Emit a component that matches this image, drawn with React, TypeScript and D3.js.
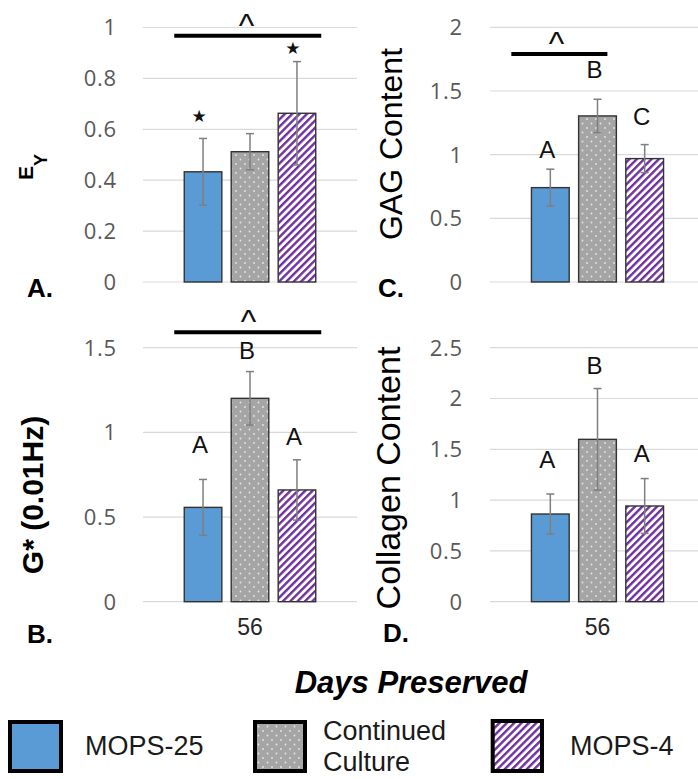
import React from "react";
import * as d3 from "d3";

const series = ["MOPS-25", "Continued Culture", "MOPS-4"];
const categories = ["56"];

const eyMeans = [0.433, 0.512, 0.663];
const eyErr = [0.131, 0.071, 0.203];
const eyTicks = [0, 0.2, 0.4, 0.6, 0.8, 1];
const eyMarks = ["★", "", "★"];
const eyMarkY = [0.652, 0, 0.919];
const eySig = { y: 0.968, from: -0.213, to: 2.917, caret: 1.327 };

const gStarMeans = [0.557, 1.201, 0.66];
const gStarErr = [0.165, 0.158, 0.178];
const gStarTicks = [0, 0.5, 1, 1.5];
const gStarLetters = ["A", "B", "A"];
const gStarLetterY = [0.88, 1.434, 0.926];
const gStarSig = { y: 1.591, from: -0.213, to: 2.917, caret: 1.37 };

const gagMeans = [0.741, 1.304, 0.969];
const gagErr = [0.145, 0.131, 0.11];
const gagTicks = [0, 0.5, 1, 1.5, 2];
const gagLetters = ["A", "B", "C"];
const gagLetterY = [0.974, 1.603, 1.233];
const gagSig = { y: 1.79, from: -0.426, to: 1.61, caret: 0.532 };

const collagenMeans = [0.863, 1.598, 0.942];
const collagenErr = [0.197, 0.5, 0.27];
const collagenTicks = [0, 0.5, 1, 1.5, 2, 2.5];
const collagenLetters = ["A", "B", "A"];
const collagenLetterY = [1.313, 2.241, 1.378];

const fills = ["#5b9bd5", "url(#dots)", "url(#stripes)"];
const TICK_FONT = "'Open Sans', 'DejaVu Sans', sans-serif";
const ARIAL = "'Liberation Sans', Arial, sans-serif";

type PanelProps = {
  x0: number; x1: number; yBottom: number; yTop: number; max: number;
  means: number[]; errs: number[]; ticks: number[];
  marks: string[]; markY: number[]; markType: "star" | "letter";
  sig?: { y: number; from: number; to: number; caret: number };
  tickX: number; showCat: boolean;
};

function Panel(p: PanelProps) {
  const y = d3.scaleLinear().domain([0, p.max]).range([p.yBottom, p.yTop]);
  const xCat = d3.scaleBand().domain(categories).range([p.x0, p.x1]).paddingInner(0).paddingOuter(0.3137);
  const cat = categories[0];
  const xs = d3.scaleBand().domain(series).range([xCat(cat)!, xCat(cat)! + xCat.bandwidth()]).paddingInner(0.2).paddingOuter(0);
  const step = xs.step();
  const g0 = xCat(cat)!;
  const bw = xs.bandwidth();
  return (
    <g>
      {p.ticks.map((t) => (
        <g key={t}>
          <line x1={p.x0} x2={p.x1} y1={y(t)} y2={y(t)} stroke="#d9d9d9" strokeWidth={1.2} />
          <text x={p.tickX} y={y(t)} dy="0.36em" textAnchor="end" fontFamily={TICK_FONT} fontSize={22} letterSpacing={0.8} fill="#595959">
            {String(t)}
          </text>
        </g>
      ))}
      {series.map((s, i) => {
        const bx = xs(s)!;
        const cx = bx + bw / 2;
        return (
          <g key={s}>
            <rect x={bx} y={y(p.means[i])} width={bw} height={y(0) - y(p.means[i])} fill={fills[i]} stroke="#333" strokeWidth={1.4} />
            <line x1={cx} x2={cx} y1={y(p.means[i] + p.errs[i])} y2={y(p.means[i] - p.errs[i])} stroke="#7f7f7f" strokeWidth={1.5} />
            <line x1={cx - 4} x2={cx + 4} y1={y(p.means[i] + p.errs[i])} y2={y(p.means[i] + p.errs[i])} stroke="#7f7f7f" strokeWidth={1.5} />
            <line x1={cx - 4} x2={cx + 4} y1={y(p.means[i] - p.errs[i])} y2={y(p.means[i] - p.errs[i])} stroke="#7f7f7f" strokeWidth={1.5} />
            {p.marks[i] && (p.markType === "star" ? (
              <text x={cx - 4} y={y(p.markY[i])} dy="0.35em" textAnchor="middle" fontFamily="'DejaVu Sans', sans-serif" fontSize={17} fill="#111">{p.marks[i]}</text>
            ) : (
              <text x={cx - 3} y={y(p.markY[i])} textAnchor="middle" fontFamily={ARIAL} fontSize={24} fill="#111">{p.marks[i]}</text>
            ))}
          </g>
        );
      })}
      {p.sig && (
        <g>
          <line x1={g0 + p.sig.from * step} x2={g0 + p.sig.to * step} y1={y(p.sig.y)} y2={y(p.sig.y)} stroke="#000" strokeWidth={4} />
          <text x={g0 + p.sig.caret * step} y={y(p.sig.y) + 1} textAnchor="middle" fontFamily={ARIAL} fontSize={33} fill="#111">^</text>
        </g>
      )}
      {p.showCat && (
        <text x={xCat(cat)! + xCat.bandwidth() / 2} y={635} textAnchor="middle" fontFamily={ARIAL} fontSize={23} fill="#262626">{cat}</text>
      )}
    </g>
  );
}

export default function App() {
  return (
    <svg width={698} height={779} style={{ position: "absolute", left: 0, top: 0, background: "#fff" }}>
      <defs>
        <pattern id="dots" patternUnits="userSpaceOnUse" width={9} height={9}>
          <rect width={9} height={9} fill="#a5a5a5" />
          <circle cx={2} cy={2} r={0.9} fill="#e6e6e6" />
          <circle cx={6.5} cy={6.5} r={0.9} fill="#e6e6e6" />
        </pattern>
        <pattern id="stripes" patternUnits="userSpaceOnUse" width={5.2} height={5.2} patternTransform="rotate(45)">
          <rect width={5.2} height={5.2} fill="#fff" />
          <rect width={2.4} height={5.2} fill="#7030a0" />
        </pattern>
      </defs>

      <Panel x0={143} x1={357} yBottom={282} yTop={27.5} max={1} means={eyMeans} errs={eyErr} ticks={eyTicks}
        marks={eyMarks} markY={eyMarkY} markType="star" sig={eySig} tickX={117} showCat={false} />
      <Panel x0={490} x1={705} yBottom={282} yTop={27.3} max={2} means={gagMeans} errs={gagErr} ticks={gagTicks}
        marks={gagLetters} markY={gagLetterY} markType="letter" sig={gagSig} tickX={463} showCat={false} />
      <Panel x0={143} x1={357} yBottom={601.7} yTop={347.7} max={1.5} means={gStarMeans} errs={gStarErr} ticks={gStarTicks}
        marks={gStarLetters} markY={gStarLetterY} markType="letter" sig={gStarSig} tickX={117} showCat={true} />
      <Panel x0={490} x1={705} yBottom={601.7} yTop={347.7} max={2.5} means={collagenMeans} errs={collagenErr} ticks={collagenTicks}
        marks={collagenLetters} markY={collagenLetterY} markType="letter" tickX={463} showCat={true} />

      {/* Axis titles */}
      <text transform="translate(33,167) rotate(-90)" textAnchor="middle" fontFamily={ARIAL} fontWeight="bold" fontSize={21} fill="#000">
        E<tspan fontSize={18} dy={14}>Y</tspan>
      </text>
      <text transform="translate(43,495) rotate(-90)" textAnchor="middle" fontFamily={ARIAL} fontWeight="bold" fontSize={30} fill="#000">G* (0.01Hz)</text>
      <text transform="translate(402,144) rotate(-90)" textAnchor="middle" fontFamily={ARIAL} fontSize={32} fill="#000">GAG Content</text>
      <text transform="translate(400,478) rotate(-90)" textAnchor="middle" fontFamily={ARIAL} fontSize={34} fill="#000">Collagen Content</text>

      {/* Panel labels */}
      <text x={27} y={297} fontFamily={ARIAL} fontWeight="bold" fontSize={26} fill="#000">A.</text>
      <text x={378} y={297} fontFamily={ARIAL} fontWeight="bold" fontSize={26} fill="#000">C.</text>
      <text x={27} y={643} fontFamily={ARIAL} fontWeight="bold" fontSize={26} fill="#000">B.</text>
      <text x={383} y={642} fontFamily={ARIAL} fontWeight="bold" fontSize={26} fill="#000">D.</text>

      <text x={411} y={693} textAnchor="middle" fontFamily={ARIAL} fontWeight="bold" fontStyle="italic" fontSize={31} fill="#000">Days Preserved</text>

      {/* Legend */}
      <rect x={10} y={722} width={51} height={49} fill={fills[0]} stroke="#000" strokeWidth={4} />
      <text x={85} y={755} fontFamily={ARIAL} fontSize={27} fill="#1a1a1a">{series[0]}</text>
      <rect x={255} y={722} width={50} height={49} fill={fills[1]} stroke="#000" strokeWidth={4} />
      <text x={323} y={740} fontFamily={ARIAL} fontSize={27} fill="#1a1a1a">Continued</text>
      <text x={323} y={771} fontFamily={ARIAL} fontSize={27} fill="#1a1a1a">Culture</text>
      <rect x={492.7} y={721} width={49.3} height={50} fill={fills[2]} stroke="#000" strokeWidth={4} />
      <text x={570} y={755} fontFamily={ARIAL} fontSize={27} fill="#1a1a1a">{series[2]}</text>
    </svg>
  );
}
